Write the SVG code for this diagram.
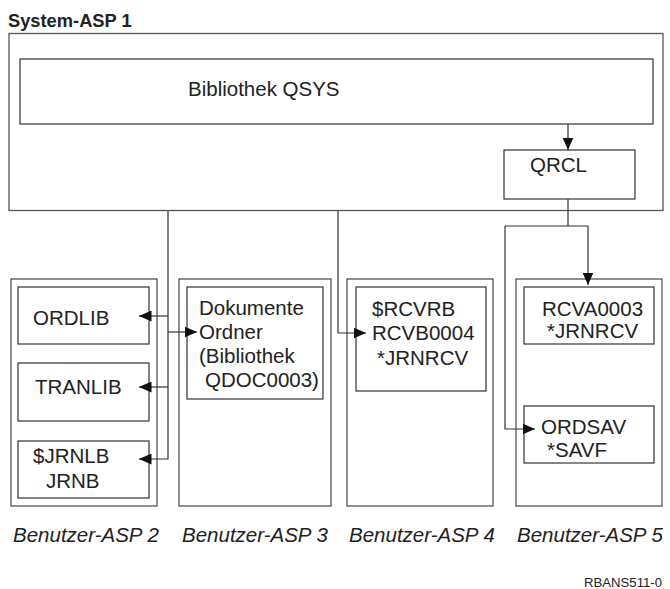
<svg xmlns="http://www.w3.org/2000/svg" width="670" height="589" viewBox="0 0 670 589">
<style>
.box{fill:#fff;stroke:#555;stroke-width:1.3}
.inner{fill:#fff;stroke:#333;stroke-width:1.2}
.t{font-family:"Liberation Sans",Arial,Helvetica,sans-serif;font-size:20.5px;fill:#222}
.lab{font-family:"Liberation Sans",Arial,Helvetica,sans-serif;font-size:20.5px;font-style:italic;fill:#222}
.title{font-family:"Liberation Sans",Arial,Helvetica,sans-serif;font-size:18.3px;font-weight:bold;fill:#222}
.small{font-family:"Liberation Sans",Arial,Helvetica,sans-serif;font-size:12px;fill:#222}
.c{fill:none;stroke:#333;stroke-width:1.2}
</style>
<defs>
<marker id="ah" markerUnits="userSpaceOnUse" markerWidth="13" markerHeight="11" refX="12.5" refY="5.5" orient="auto">
<path d="M0,0 L12.5,5.5 L0,11 Z" fill="#111"/>
</marker>
</defs>
<rect width="670" height="589" fill="#fff"/>

<g id="asp1">
<text class="title" x="8" y="27">System-ASP 1</text>
<rect class="box" x="9" y="33.5" width="654" height="177"/>
</g>
<g id="qsys">
<rect class="inner" x="20" y="59" width="633" height="65"/>
<text class="t" x="188" y="96">Bibliothek QSYS</text>
</g>
<g id="qrcl">
<rect class="inner" x="504" y="150" width="131" height="49"/>
<text class="t" x="530" y="172">QRCL</text>
</g>

<g id="asp2">
<rect class="box" x="11" y="279" width="146" height="227"/>
<text class="lab" x="13" y="542">Benutzer-ASP 2</text>
</g>
<g id="ordlib">
<rect class="inner" x="18" y="287" width="131" height="57"/>
<text class="t" x="33" y="325">ORDLIB</text>
</g>
<g id="tranlib">
<rect class="inner" x="18" y="363" width="131" height="58"/>
<text class="t" x="35" y="394">TRANLIB</text>
</g>
<g id="jrnlb">
<rect class="inner" x="18" y="441" width="131" height="57"/>
<text class="t" x="33" y="463">$JRNLB</text>
<text class="t" x="46" y="488">JRNB</text>
</g>

<g id="asp3">
<rect class="box" x="179" y="279" width="152" height="227"/>
<text class="lab" x="182" y="542">Benutzer-ASP 3</text>
</g>
<g id="dokumente">
<rect class="inner" x="187" y="287" width="136" height="112"/>
<text class="t" x="199" y="315">Dokumente</text>
<text class="t" x="199" y="339">Ordner</text>
<text class="t" x="199" y="363">(Bibliothek</text>
<text class="t" x="205" y="387">QDOC0003)</text>
</g>

<g id="asp4">
<rect class="box" x="347" y="279" width="146" height="227"/>
<text class="lab" x="349" y="542">Benutzer-ASP 4</text>
</g>
<g id="rcvrb">
<rect class="inner" x="356" y="287" width="130" height="104"/>
<text class="t" x="372" y="316">$RCVRB</text>
<text class="t" x="372" y="340">RCVB0004</text>
<text class="t" x="377" y="365">*JRNRCV</text>
</g>

<g id="asp5">
<rect class="box" x="516" y="279" width="146" height="227"/>
<text class="lab" x="517" y="542">Benutzer-ASP 5</text>
</g>
<g id="rcva">
<rect class="inner" x="524" y="287" width="130" height="57"/>
<text class="t" x="542" y="316">RCVA0003</text>
<text class="t" x="547" y="338">*JRNRCV</text>
</g>
<g id="ordsav">
<rect class="inner" x="524" y="406" width="130" height="57"/>
<text class="t" x="541" y="434">ORDSAV</text>
<text class="t" x="547" y="457">*SAVF</text>
</g>

<g id="connectors">
<path class="c" d="M568,124 V150" marker-end="url(#ah)"/>
<path class="c" d="M168,211 V459 H139" marker-end="url(#ah)"/>
<path class="c" d="M168,316 H139" marker-end="url(#ah)"/>
<path class="c" d="M168,387 H139" marker-end="url(#ah)"/>
<path class="c" d="M168,332 H197" marker-end="url(#ah)"/>
<path class="c" d="M338,211 V333 H366" marker-end="url(#ah)"/>
<path class="c" d="M568,199 V226"/>
<path class="c" d="M505,226 H588 V285" marker-end="url(#ah)"/>
<path class="c" d="M505,226 V429 H535" marker-end="url(#ah)"/>
</g>

<text class="small" x="584" y="587" textLength="78" lengthAdjust="spacingAndGlyphs">RBANS511-0</text>
</svg>
